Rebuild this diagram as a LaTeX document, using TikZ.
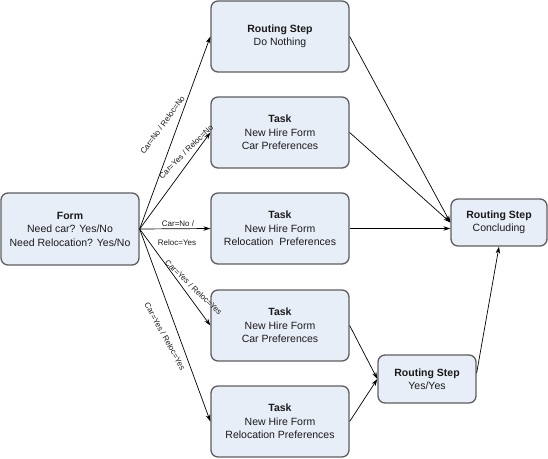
\documentclass[tikz,border=0pt]{standalone}
\usepackage{fontspec}
\setmainfont{Liberation Sans}
\usetikzlibrary{arrows.meta,calc}
\definecolor{boxfill}{HTML}{E8EEF8}
\definecolor{boxline}{HTML}{5E5E5E}
\definecolor{txt}{HTML}{1A1A1A}
\begin{document}
\begin{tikzpicture}[x=1pt,y=-1pt,
  box/.style={draw=boxline, line width=1.3pt, fill=boxfill, rounded corners=7pt,
    minimum width=138pt, minimum height=71pt, align=center, inner sep=0pt,
    text=txt, font=\fontsize{10.5}{13.5}\selectfont},
  smallbox/.style={box, minimum width=96pt, minimum height=47pt},
  conn/.style={draw=black, line width=0.7pt, -{Stealth[length=7pt,width=4.5pt]}},
  lbl/.style={font=\fontsize{8}{9.5}\selectfont, text=txt, inner sep=0pt}]
\useasboundingbox (0,0) rectangle (548,458);
\node[box, minimum height=72pt] (form) at (70,229) {\textbf{Form}\\Need car? Yes/No\\Need Relocation? Yes/No};
\node[box] (dn) at (280,36.5) {\textbf{Routing Step}\\Do Nothing};
\node[box] (t2) at (280,132.5) {\textbf{Task}\\New Hire Form\\Car Preferences};
\node[box] (t3) at (280,228.5) {\textbf{Task}\\New Hire Form\\Relocation~ Preferences};
\node[box] (t4) at (280,325.5) {\textbf{Task}\\New Hire Form\\Car Preferences};
\node[box] (t5) at (280,421.5) {\textbf{Task}\\New Hire Form\\Relocation Preferences};
\node[smallbox] (conc) at (499,222.5) {\textbf{Routing Step}\\Concluding};
\node[smallbox, minimum width=98pt, minimum height=48pt] (yy) at (427,379) {\textbf{Routing Step}\\Yes/Yes};

\draw[conn] (form.east) -- (dn.west);
\draw[conn] (form.east) -- (t2.west);
\draw[conn] (form.east) -- (t3.west);
\draw[conn] (form.east) -- (t4.west);
\draw[conn] (form.east) -- (t5.west);
\draw[conn] (dn.east) -- (conc.west);
\draw[conn] (t2.east) -- (conc.west);
\draw[conn] (t3.east) -- (t3.east -| conc.west);
\draw[conn] (t4.east) -- (yy.west);
\draw[conn] (t5.east) -- (yy.west);
\draw[conn] ([yshift=6pt]yy.east) -- (conc.south);

\node[lbl, rotate=54] (l1) at (162.5,125) {Car=No / Reloc=No};
\node[lbl, rotate=45] (l2) at (186,151.5) {Car=Yes / Reloc=No};
\node[lbl] (l3a) at (178,224) {Car=No /};
\node[lbl] (l3b) at (177,243) {Reloc=Yes};
\node[lbl, rotate=-44] (l4) at (193.5,287.5) {Car=Yes / Reloc=Yes};
\node[lbl, rotate=-61] (l5) at (165,336.5) {Car=Yes / Reloc=Yes};
\end{tikzpicture}
\end{document}
